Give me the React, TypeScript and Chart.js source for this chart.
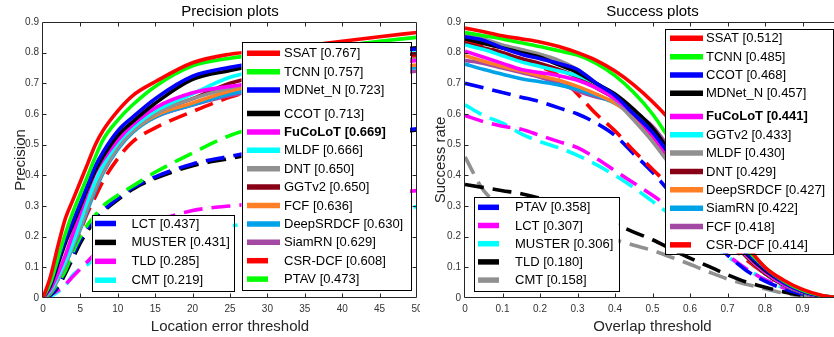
import React, { useEffect, useRef } from "react";
import { Chart, registerables } from "chart.js";

Chart.register(...registerables);

const FONT = '"Liberation Sans", Arial, Helvetica, sans-serif';

// ---------------- Precision plot data ----------------
const precisionThresholds = [0, 1, 2, 3, 4, 5, 6, 7, 8, 10, 12, 15, 20, 25, 30, 35, 40, 45, 50];
const precisionTrackers = ["SSAT", "TCNN", "MDNet_N", "CCOT", "FuCoLoT", "MLDF", "DNT", "GGTv2", "FCF", "DeepSRDCF", "SiamRN", "CSR-DCF", "PTAV", "LCT", "MUSTER", "TLD", "CMT"];
const precisionScores = [0.767, 0.757, 0.723, 0.713, 0.669, 0.666, 0.65, 0.65, 0.636, 0.63, 0.629, 0.608, 0.473, 0.437, 0.431, 0.285, 0.219];

const precSSAT = [0, 0.07, 0.17, 0.26, 0.32, 0.38, 0.44, 0.5, 0.545, 0.61, 0.66, 0.705, 0.767, 0.795, 0.808, 0.822, 0.837, 0.852, 0.866];
const precTCNN = [0, 0.05, 0.13, 0.21, 0.28, 0.34, 0.4, 0.46, 0.515, 0.58, 0.63, 0.69, 0.757, 0.782, 0.797, 0.81, 0.823, 0.837, 0.85];
const precMDNet = [0, 0.045, 0.12, 0.19, 0.25, 0.31, 0.37, 0.43, 0.475, 0.545, 0.59, 0.65, 0.723, 0.752, 0.772, 0.787, 0.797, 0.805, 0.812];
const precCCOT = [0, 0.04, 0.11, 0.18, 0.24, 0.3, 0.36, 0.415, 0.46, 0.53, 0.575, 0.635, 0.713, 0.742, 0.765, 0.782, 0.797, 0.807, 0.816];
const precFuCoLoT = [0, 0.03, 0.08, 0.14, 0.21, 0.28, 0.35, 0.41, 0.45, 0.515, 0.565, 0.62, 0.669, 0.69, 0.705, 0.72, 0.74, 0.758, 0.775];
const precMLDF = [0, 0.025, 0.07, 0.12, 0.18, 0.25, 0.32, 0.38, 0.43, 0.505, 0.555, 0.61, 0.666, 0.72, 0.745, 0.765, 0.783, 0.797, 0.81];
const precDNT = [0, 0.02, 0.06, 0.11, 0.17, 0.23, 0.3, 0.36, 0.41, 0.49, 0.545, 0.6, 0.65, 0.685, 0.71, 0.73, 0.75, 0.765, 0.78];
const precGGTv2 = [0, 0.025, 0.07, 0.12, 0.18, 0.24, 0.31, 0.37, 0.42, 0.5, 0.55, 0.605, 0.65, 0.7, 0.73, 0.755, 0.775, 0.787, 0.797];
const precFCF = [0, 0.025, 0.07, 0.12, 0.18, 0.24, 0.31, 0.37, 0.42, 0.495, 0.545, 0.595, 0.636, 0.675, 0.7, 0.72, 0.735, 0.748, 0.76];
const precDeepSRDCF = [0, 0.02, 0.06, 0.11, 0.165, 0.225, 0.29, 0.35, 0.405, 0.485, 0.54, 0.59, 0.63, 0.665, 0.69, 0.708, 0.725, 0.74, 0.752];
const precSiamRN = [0, 0.025, 0.07, 0.12, 0.18, 0.24, 0.31, 0.37, 0.42, 0.495, 0.545, 0.59, 0.629, 0.66, 0.682, 0.7, 0.715, 0.728, 0.74];
const precCSRDCF = [0, 0.02, 0.06, 0.11, 0.165, 0.22, 0.28, 0.33, 0.38, 0.455, 0.51, 0.555, 0.608, 0.655, 0.69, 0.72, 0.745, 0.77, 0.79];
const precPTAV = [0, 0.015, 0.05, 0.09, 0.15, 0.2, 0.24, 0.27, 0.3, 0.335, 0.365, 0.41, 0.473, 0.53, 0.565, 0.595, 0.62, 0.64, 0.655];
const precLCT = [0, 0.01, 0.04, 0.09, 0.14, 0.19, 0.23, 0.26, 0.285, 0.325, 0.36, 0.395, 0.437, 0.462, 0.485, 0.505, 0.522, 0.538, 0.552];
const precMUSTER = [0, 0.01, 0.035, 0.08, 0.13, 0.18, 0.22, 0.25, 0.28, 0.32, 0.355, 0.39, 0.431, 0.455, 0.478, 0.498, 0.515, 0.532, 0.548];
const precTLD = [0, 0.01, 0.025, 0.045, 0.07, 0.095, 0.12, 0.145, 0.165, 0.2, 0.225, 0.25, 0.285, 0.3, 0.31, 0.32, 0.33, 0.34, 0.35];
const precCMT = [0, 0.005, 0.02, 0.04, 0.075, 0.095, 0.11, 0.13, 0.145, 0.17, 0.19, 0.205, 0.219, 0.235, 0.25, 0.26, 0.275, 0.287, 0.298];

const precisionSeries = [precSSAT, precTCNN, precMDNet, precCCOT, precFuCoLoT, precMLDF, precDNT, precGGTv2, precFCF, precDeepSRDCF, precSiamRN, precCSRDCF, precPTAV, precLCT, precMUSTER, precTLD, precCMT];
const precisionColors = ["#ff0000", "#00ff00", "#0000ff", "#000000", "#ff00ff", "#00ffff", "#909090", "#880015", "#ff7f27", "#00a2e8", "#a349a4", "#ff0000", "#00ff00", "#0000ff", "#000000", "#ff00ff", "#00ffff"];
const precisionDashed = [false, false, false, false, false, false, false, false, false, false, false, true, true, true, true, true, true];

// ---------------- Success plot data ----------------
const overlapThresholds = [0, 0.05, 0.1, 0.15, 0.2, 0.25, 0.3, 0.35, 0.4, 0.45, 0.5, 0.55, 0.6, 0.65, 0.7, 0.75, 0.8, 0.85, 0.9, 0.95, 1];
const successTrackers = ["SSAT", "TCNN", "CCOT", "MDNet_N", "FuCoLoT", "GGTv2", "MLDF", "DNT", "DeepSRDCF", "SiamRN", "FCF", "CSR-DCF", "PTAV", "LCT", "MUSTER", "TLD", "CMT"];
const successScores = [0.512, 0.485, 0.468, 0.457, 0.441, 0.433, 0.43, 0.429, 0.427, 0.422, 0.418, 0.414, 0.358, 0.307, 0.306, 0.18, 0.158];

const sucSSAT = [0.88, 0.868, 0.855, 0.845, 0.835, 0.82, 0.8, 0.775, 0.74, 0.695, 0.64, 0.575, 0.49, 0.39, 0.28, 0.175, 0.1, 0.058, 0.028, 0.009, 0];
const sucTCNN = [0.866, 0.855, 0.845, 0.832, 0.82, 0.806, 0.792, 0.765, 0.725, 0.67, 0.6, 0.51, 0.42, 0.33, 0.24, 0.16, 0.1, 0.055, 0.025, 0.008, 0];
const sucCCOT = [0.852, 0.84, 0.815, 0.795, 0.78, 0.765, 0.745, 0.7, 0.66, 0.6, 0.54, 0.46, 0.38, 0.3, 0.22, 0.15, 0.095, 0.05, 0.022, 0.007, 0];
const sucMDNet = [0.845, 0.83, 0.815, 0.8, 0.785, 0.76, 0.735, 0.7, 0.665, 0.615, 0.555, 0.47, 0.385, 0.3, 0.22, 0.145, 0.09, 0.05, 0.022, 0.007, 0];
const sucFuCoLoT = [0.805, 0.785, 0.765, 0.745, 0.735, 0.725, 0.71, 0.685, 0.65, 0.6, 0.53, 0.45, 0.37, 0.29, 0.21, 0.14, 0.085, 0.045, 0.02, 0.006, 0];
const sucGGTv2 = [0.825, 0.81, 0.79, 0.77, 0.755, 0.74, 0.725, 0.7, 0.66, 0.61, 0.54, 0.46, 0.375, 0.29, 0.21, 0.14, 0.085, 0.045, 0.02, 0.006, 0];
const sucMLDF = [0.86, 0.845, 0.825, 0.81, 0.795, 0.775, 0.745, 0.7, 0.645, 0.58, 0.51, 0.43, 0.355, 0.28, 0.205, 0.14, 0.085, 0.045, 0.02, 0.006, 0];
const sucDNT = [0.83, 0.815, 0.8, 0.78, 0.765, 0.745, 0.72, 0.685, 0.65, 0.6, 0.53, 0.45, 0.37, 0.285, 0.205, 0.135, 0.08, 0.043, 0.019, 0.006, 0];
const sucDeepSRDCF = [0.79, 0.772, 0.755, 0.74, 0.725, 0.71, 0.69, 0.665, 0.635, 0.59, 0.525, 0.445, 0.365, 0.285, 0.205, 0.135, 0.08, 0.043, 0.019, 0.006, 0];
const sucSiamRN = [0.763, 0.745, 0.73, 0.715, 0.705, 0.695, 0.68, 0.66, 0.635, 0.6, 0.54, 0.455, 0.37, 0.285, 0.205, 0.135, 0.08, 0.042, 0.018, 0.006, 0];
const sucFCF = [0.775, 0.765, 0.75, 0.735, 0.72, 0.7, 0.675, 0.655, 0.64, 0.605, 0.56, 0.48, 0.39, 0.3, 0.215, 0.14, 0.08, 0.042, 0.018, 0.005, 0];
const sucCSRDCF = [0.838, 0.82, 0.8, 0.78, 0.755, 0.725, 0.665, 0.6, 0.545, 0.48, 0.42, 0.36, 0.3, 0.24, 0.18, 0.125, 0.08, 0.045, 0.02, 0.006, 0];
const sucPTAV = [0.7, 0.685, 0.67, 0.655, 0.64, 0.62, 0.6, 0.57, 0.53, 0.47, 0.41, 0.34, 0.27, 0.2, 0.14, 0.09, 0.055, 0.03, 0.013, 0.004, 0];
const sucLCT = [0.595, 0.575, 0.56, 0.55, 0.53, 0.51, 0.49, 0.455, 0.415, 0.375, 0.335, 0.29, 0.24, 0.19, 0.14, 0.095, 0.06, 0.033, 0.015, 0.005, 0];
const sucMUSTER = [0.63, 0.595, 0.57, 0.535, 0.51, 0.49, 0.465, 0.435, 0.4, 0.36, 0.315, 0.27, 0.225, 0.18, 0.135, 0.095, 0.06, 0.033, 0.015, 0.005, 0];
const sucTLD = [0.37, 0.36, 0.35, 0.34, 0.325, 0.305, 0.285, 0.26, 0.24, 0.215, 0.19, 0.16, 0.13, 0.103, 0.076, 0.052, 0.035, 0.02, 0.009, 0.003, 0];
const sucCMT = [0.46, 0.35, 0.3, 0.275, 0.255, 0.24, 0.225, 0.21, 0.19, 0.172, 0.155, 0.133, 0.11, 0.085, 0.062, 0.045, 0.03, 0.016, 0.007, 0.002, 0];

const successSeries = [sucSSAT, sucTCNN, sucCCOT, sucMDNet, sucFuCoLoT, sucGGTv2, sucMLDF, sucDNT, sucDeepSRDCF, sucSiamRN, sucFCF, sucCSRDCF, sucPTAV, sucLCT, sucMUSTER, sucTLD, sucCMT];
const successColors = ["#ff0000", "#00ff00", "#0000ff", "#000000", "#ff00ff", "#00ffff", "#909090", "#880015", "#ff7f27", "#00a2e8", "#a349a4", "#ff0000", "#0000ff", "#ff00ff", "#00ffff", "#000000", "#909090"];
const successDashed = [false, false, false, false, false, false, false, false, false, false, false, true, true, true, true, true, true];

const BOLD_TRACKER = "FuCoLoT";

type LegendSpec = {
  box: [number, number, number, number];
  items: number[];
  rowY0: number;
  rowStep: number;
  gapAfter: number;
  gap: number;
  sampleX: number;
  textX: number;
};

type PlotSpec = {
  title: string;
  xTitle: string;
  yTitle: string;
  xs: number[];
  series: number[][];
  names: string[];
  scores: number[];
  colors: string[];
  dashed: boolean[];
  xMax: number;
  xStep: number;
  yAxisWidth: number;
  padRight: number;
  legends: LegendSpec[];
};

function decorPlugin(spec: PlotSpec) {
  return {
    id: "matlabDecor",
    afterDraw(chart: any) {
      const ctx = chart.ctx as CanvasRenderingContext2D;
      const a = chart.chartArea;
      const xs = chart.scales.x;
      const ys = chart.scales.y;
      ctx.save();
      // axes box
      const L = Math.round(a.left) - 0.5;
      const R = Math.round(a.right) - 0.5;
      const T = Math.round(a.top) + 0.5;
      const B = Math.round(a.bottom) - 0.5;
      ctx.strokeStyle = "#262626";
      ctx.lineWidth = 1;
      ctx.setLineDash([]);
      ctx.beginPath();
      ctx.moveTo(L, T);
      ctx.lineTo(R, T);
      ctx.lineTo(R, B);
      ctx.lineTo(L, B);
      ctx.closePath();
      ctx.stroke();
      // inward tick marks on all four sides
      const tl = 4;
      ctx.beginPath();
      xs.ticks.forEach((t: any) => {
        const p = Math.round(xs.getPixelForValue(t.value)) + 0.5;
        if (p <= L + 1 || p >= R - 1) return;
        ctx.moveTo(p, B);
        ctx.lineTo(p, B - tl);
        ctx.moveTo(p, T);
        ctx.lineTo(p, T + tl);
      });
      ys.ticks.forEach((t: any) => {
        const p = Math.round(ys.getPixelForValue(t.value)) + 0.5;
        if (p <= T + 1 || p >= B - 1) return;
        ctx.moveTo(L, p);
        ctx.lineTo(L + tl, p);
        ctx.moveTo(R, p);
        ctx.lineTo(R - tl, p);
      });
      ctx.stroke();

      // legends
      spec.legends.forEach((lg) => {
        const [x0, y0, x1, y1] = lg.box;
        ctx.fillStyle = "#ffffff";
        ctx.fillRect(x0, y0, x1 - x0, y1 - y0);
        ctx.strokeStyle = "#000000";
        ctx.lineWidth = 1;
        ctx.strokeRect(Math.round(x0) + 0.5, Math.round(y0) + 0.5, Math.round(x1 - x0), Math.round(y1 - y0));
        lg.items.forEach((idx, r) => {
          const y = lg.rowY0 + r * lg.rowStep + (r > lg.gapAfter ? lg.gap : 0);
          ctx.strokeStyle = spec.colors[idx];
          ctx.lineWidth = 5.5;
          ctx.lineCap = "butt";
          ctx.beginPath();
          ctx.moveTo(lg.sampleX, y);
          ctx.lineTo(lg.sampleX + (spec.dashed[idx] ? 21 : 33), y);
          ctx.stroke();
          const name = spec.names[idx];
          ctx.font = `${name === BOLD_TRACKER ? "bold " : ""}13px ${FONT}`;
          ctx.fillStyle = "#000000";
          ctx.textAlign = "left";
          ctx.textBaseline = "middle";
          ctx.fillText(`${name} [${spec.scores[idx].toFixed(3)}]`, lg.textX, y + 0.5);
        });
      });

      // titles
      const cx = (a.left + a.right) / 2;
      ctx.fillStyle = "#000000";
      ctx.textAlign = "center";
      ctx.textBaseline = "alphabetic";
      ctx.font = `15px ${FONT}`;
      ctx.fillText(spec.title, cx, 16);
      ctx.fillStyle = "#262626";
      ctx.fillText(spec.xTitle, cx, 331);
      ctx.save();
      ctx.translate(24.5, (a.top + a.bottom) / 2);
      ctx.rotate(-Math.PI / 2);
      ctx.fillText(spec.yTitle, 0, 0);
      ctx.restore();
      ctx.restore();
    },
  };
}

function Plot({ spec }: { spec: PlotSpec }) {
  const ref = useRef<HTMLCanvasElement | null>(null);
  useEffect(() => {
    if (!ref.current) return;
    const datasets = spec.series.map((vals, i) => ({
      label: spec.names[i],
      data: spec.xs.map((x, k) => ({ x, y: vals[k] })),
      borderColor: spec.colors[i],
      backgroundColor: spec.colors[i],
      borderWidth: 3.6,
      borderDash: spec.dashed[i] ? [19, 9] : [],
      pointRadius: 0,
      fill: false,
      cubicInterpolationMode: "monotone" as const,
    }));
    const tickFont = { family: FONT, size: 10 };
    const chart = new Chart(ref.current, {
      type: "line",
      data: { datasets },
      options: {
        animation: false,
        responsive: true,
        maintainAspectRatio: false,
        devicePixelRatio: 1,
        events: [],
        layout: { padding: { left: 0, right: spec.padRight, top: 22, bottom: 0 } },
        plugins: {
          legend: { display: false },
          title: { display: false },
          tooltip: { enabled: false },
        },
        scales: {
          x: {
            type: "linear",
            min: 0,
            max: spec.xMax,
            grid: { display: false, drawTicks: false },
            border: { display: false },
            ticks: {
              stepSize: spec.xStep,
              font: tickFont,
              color: "#333333",
              padding: 5,
              maxRotation: 0,
              autoSkip: false,
              callback: (v: any) => String(Number(Number(v).toFixed(2))),
            },
            afterFit: (s: any) => {
              s.height = 39;
              s.paddingLeft = 0;
              s.paddingRight = 0;
            },
          },
          y: {
            type: "linear",
            min: 0,
            max: 0.9,
            grid: { display: false, drawTicks: false },
            border: { display: false },
            ticks: {
              stepSize: 0.1,
              font: tickFont,
              color: "#333333",
              padding: 4,
              autoSkip: false,
              callback: (v: any) => String(Number(Number(v).toFixed(2))),
            },
            afterFit: (s: any) => {
              s.width = spec.yAxisWidth;
              s.paddingTop = 0;
              s.paddingBottom = 0;
            },
          },
        },
      },
      plugins: [decorPlugin(spec)],
    });
    return () => chart.destroy();
  }, [spec]);
  return <canvas ref={ref} />;
}

const precisionSpec: PlotSpec = {
  title: "Precision plots",
  xTitle: "Location error threshold",
  yTitle: "Precision",
  xs: precisionThresholds,
  series: precisionSeries,
  names: precisionTrackers,
  scores: precisionScores,
  colors: precisionColors,
  dashed: precisionDashed,
  xMax: 50,
  xStep: 5,
  yAxisWidth: 43,
  padRight: 3,
  legends: [
    { box: [241.5, 42, 410, 290], items: [0, 1, 2, 3, 4, 5, 6, 7, 8, 9, 10, 11, 12], rowY0: 53.3, rowStep: 18.4, gapAfter: 2, gap: 5, sampleX: 247, textX: 284 },
    { box: [91.5, 215, 233, 290.5], items: [13, 14, 15, 16], rowY0: 223.5, rowStep: 18.9, gapAfter: 99, gap: 0, sampleX: 95, textX: 131.5 },
  ],
};

const successSpec: PlotSpec = {
  title: "Success plots",
  xTitle: "Overlap threshold",
  yTitle: "Success rate",
  xs: overlapThresholds,
  series: successSeries,
  names: successTrackers,
  scores: successScores,
  colors: successColors,
  dashed: successDashed,
  xMax: 1,
  xStep: 0.1,
  yAxisWidth: 45,
  padRight: 0,
  legends: [
    { box: [245, 28.5, 412.5, 253.5], items: [0, 1, 2, 3, 4, 5, 6, 7, 8, 9, 10, 11], rowY0: 38.3, rowStep: 18.35, gapAfter: 3, gap: 4.7, sampleX: 250, textX: 286 },
    { box: [53.5, 197, 198.5, 290.5], items: [12, 13, 14, 15, 16], rowY0: 207.3, rowStep: 18.2, gapAfter: 99, gap: 0, sampleX: 58, textX: 95 },
  ],
};

export default function App() {
  return (
    <div style={{ position: "absolute", left: 0, top: 0, width: 834, height: 337, overflow: "hidden", background: "#ffffff" }}>
      <div style={{ position: "absolute", left: 0, top: 0, width: 420, height: 337 }}>
        <Plot spec={precisionSpec} />
      </div>
      <div style={{ position: "absolute", left: 420, top: 0, width: 420, height: 337 }}>
        <Plot spec={successSpec} />
      </div>
    </div>
  );
}
